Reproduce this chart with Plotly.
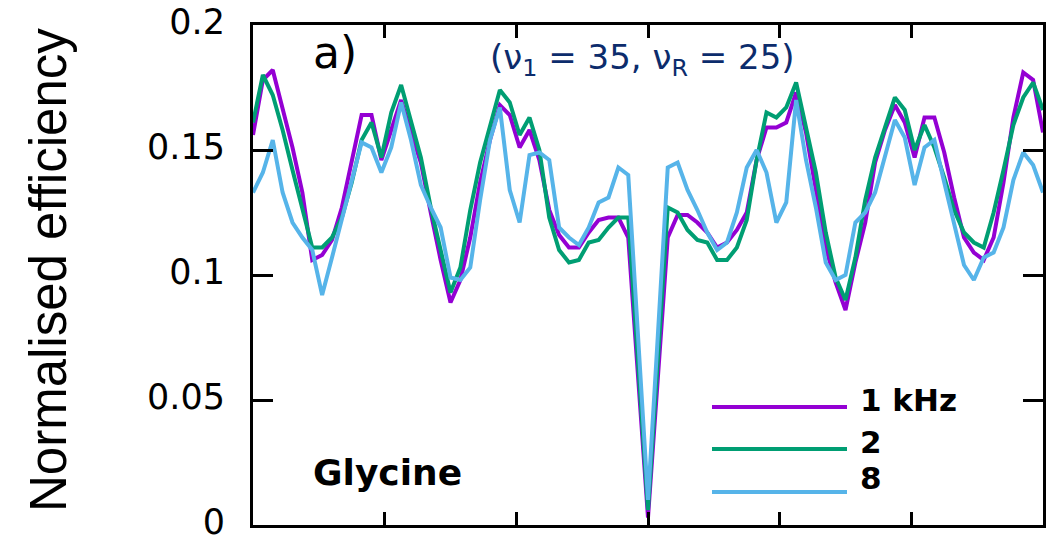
import numpy as np
import plotly.graph_objects as go

# abscissa grid (81 samples across the 0..6 axis)
x_vals = np.linspace(0, 6, 81)

series_names = ["1 kHz", "2", "8"]
series_colors = ["#9400D3", "#009E73", "#56B4E9"]

eff_1khz = [0.156, 0.178, 0.182, 0.166, 0.151, 0.133, 0.106, 0.108, 0.114, 0.127,
            0.146, 0.164, 0.164, 0.146, 0.158, 0.170, 0.157, 0.145, 0.125, 0.106,
            0.089, 0.098, 0.115, 0.137, 0.154, 0.168, 0.164, 0.151, 0.158, 0.146,
            0.126, 0.116, 0.111, 0.111, 0.117, 0.122, 0.123, 0.123, 0.115, 0.059,
            0.003, 0.059, 0.115, 0.124, 0.124, 0.121, 0.117, 0.111, 0.113, 0.118,
            0.125, 0.146, 0.159, 0.159, 0.161, 0.173, 0.157, 0.134, 0.111, 0.097,
            0.086, 0.105, 0.121, 0.145, 0.158, 0.168, 0.161, 0.147, 0.163, 0.163,
            0.149, 0.131, 0.115, 0.109, 0.106, 0.115, 0.137, 0.163, 0.181, 0.178,
            0.157]

eff_2khz = [0.161, 0.180, 0.172, 0.158, 0.142, 0.126, 0.111, 0.111, 0.115, 0.123,
            0.137, 0.154, 0.161, 0.147, 0.165, 0.176, 0.161, 0.147, 0.127, 0.110,
            0.093, 0.103, 0.126, 0.145, 0.159, 0.174, 0.169, 0.156, 0.163, 0.150,
            0.123, 0.110, 0.105, 0.106, 0.113, 0.114, 0.119, 0.123, 0.123, 0.065,
            0.006, 0.066, 0.127, 0.125, 0.118, 0.114, 0.113, 0.106, 0.106, 0.111,
            0.122, 0.146, 0.165, 0.163, 0.167, 0.177, 0.159, 0.141, 0.117, 0.099,
            0.090, 0.107, 0.130, 0.147, 0.159, 0.171, 0.166, 0.150, 0.160, 0.151,
            0.139, 0.126, 0.117, 0.113, 0.111, 0.125, 0.142, 0.160, 0.171, 0.177,
            0.166]

eff_8khz = [0.133, 0.141, 0.154, 0.133, 0.121, 0.115, 0.110, 0.092, 0.107, 0.122,
            0.138, 0.153, 0.151, 0.141, 0.151, 0.169, 0.154, 0.136, 0.127, 0.119,
            0.099, 0.098, 0.103, 0.130, 0.154, 0.167, 0.134, 0.121, 0.148, 0.149,
            0.146, 0.119, 0.115, 0.112, 0.119, 0.129, 0.131, 0.143, 0.140, 0.075,
            0.010, 0.076, 0.143, 0.145, 0.134, 0.126, 0.117, 0.110, 0.113, 0.125,
            0.143, 0.150, 0.141, 0.121, 0.129, 0.170, 0.146, 0.127, 0.105, 0.098,
            0.100, 0.121, 0.125, 0.133, 0.147, 0.162, 0.155, 0.136, 0.151, 0.154,
            0.137, 0.121, 0.104, 0.098, 0.107, 0.109, 0.119, 0.138, 0.149, 0.144,
            0.133]

y_tickvals = [0, 0.05, 0.1, 0.15, 0.2]
y_ticktext = ["0", "0.05", "0.1", "0.15", "0.2"]
x_tickvals = [0, 1, 2, 3, 4, 5, 6]

all_series = [eff_1khz, eff_2khz, eff_8khz]

fig = go.Figure()
for name, col, vals in zip(series_names, series_colors, all_series):
    fig.add_trace(go.Scatter(x=x_vals, y=vals, mode="lines", name=name,
                             line=dict(color=col, width=4), showlegend=False))

W, H = 1052, 542
L, R, T, B = 253, 9, 25, 17
pw, ph = W - L - R, H - T - B


def px(xp):
    return (xp - L) / pw


def py(yp):
    return (H - B - yp) / ph


fig.update_layout(
    width=W, height=H,
    margin=dict(l=L, r=R, t=T, b=B, pad=0, autoexpand=False),
    paper_bgcolor="white", plot_bgcolor="white",
    showlegend=False,
)
fig.update_xaxes(range=[0, 6], tickvals=x_tickvals, showticklabels=False,
                 ticks="inside", ticklen=13, tickwidth=3, tickcolor="black",
                 showline=True, linewidth=3, linecolor="black", mirror="ticks",
                 showgrid=False, zeroline=False, automargin=False)
fig.update_yaxes(range=[0, 0.2], tickvals=y_tickvals, ticktext=y_ticktext,
                 ticks="inside", ticklen=20, tickwidth=3, tickcolor="black",
                 showline=True, linewidth=3, linecolor="black", mirror="ticks",
                 showgrid=False, zeroline=False, ticklabelstandoff=18,
                 ticklabelshift=-3, ticklabeloverflow="allow", automargin=False,
                 tickfont=dict(family="DejaVu Sans", size=35, color="black"))

ann = []
ann.append(dict(text="Normalised efficiency", x=px(48), y=py(270), xref="paper", yref="paper",
                textangle=-90, showarrow=False, xanchor="center", yanchor="middle",
                font=dict(family="Liberation Sans", size=51, color="black")))
ann.append(dict(text="a)", x=px(335), y=py(52), xref="paper", yref="paper",
                showarrow=False, xanchor="center", yanchor="middle",
                font=dict(family="DejaVu Sans", size=44, color="black")))
ann.append(dict(text="(ν<sub>1</sub> = 35, ν<sub>R</sub> = 25)", x=px(642), y=py(60),
                xref="paper", yref="paper", showarrow=False, xanchor="center", yanchor="middle",
                font=dict(family="DejaVu Sans", size=34, color="#0c2c6c")))
ann.append(dict(text="<b>Glycine</b>", x=px(387), y=py(472), xref="paper", yref="paper",
                showarrow=False, xanchor="center", yanchor="middle",
                font=dict(family="DejaVu Sans", size=36, color="black")))

legend_line_y = [407, 449, 492]
legend_text_y = [400, 442, 478]
shapes = []
for name, col, ly, ty in zip(series_names, series_colors, legend_line_y, legend_text_y):
    shapes.append(dict(type="line", xref="paper", yref="paper", x0=px(712), x1=px(847),
                       y0=py(ly), y1=py(ly), line=dict(color=col, width=4)))
    ann.append(dict(text="<b>%s</b>" % name, x=px(858), y=py(ty), xref="paper", yref="paper",
                    showarrow=False, xanchor="left", yanchor="middle",
                    font=dict(family="DejaVu Sans", size=31, color="black")))

fig.update_layout(annotations=ann, shapes=shapes)
# remove the browser's default 8px page margin so the figure fills the window exactly
fig.write_html("out.html", config={"displayModeBar": False},
               post_script="document.body.style.margin='0px';")
